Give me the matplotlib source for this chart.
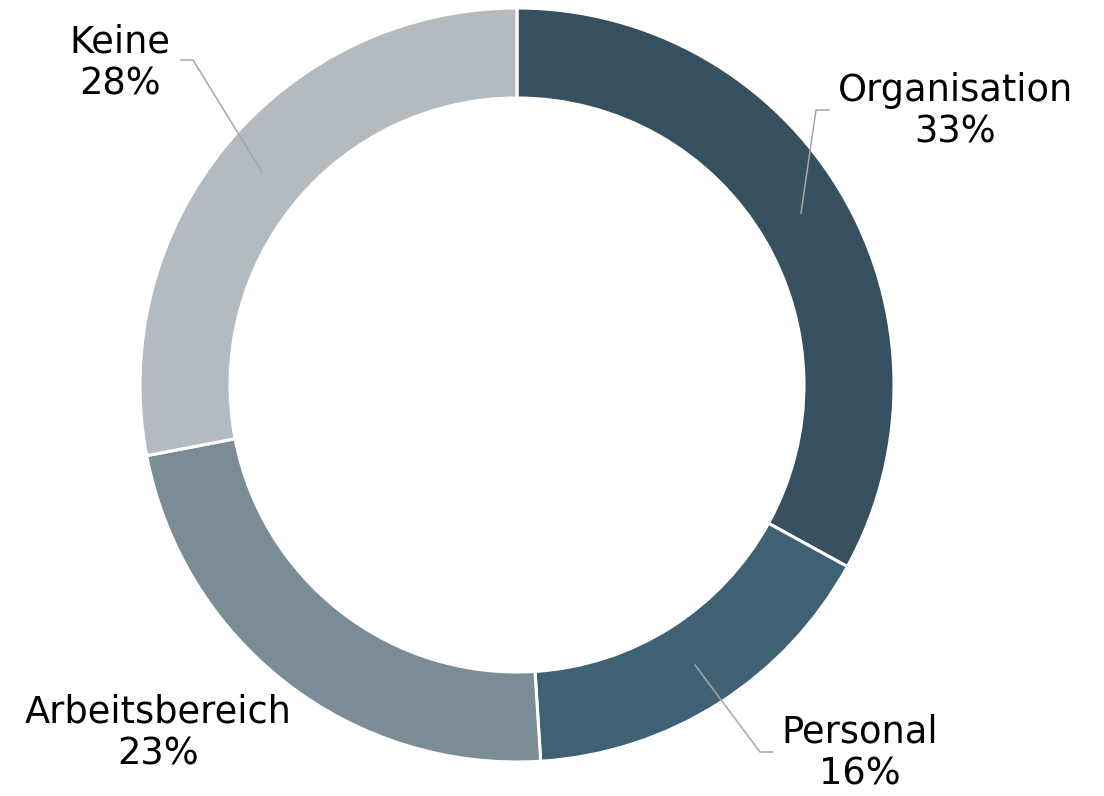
import numpy as np
import matplotlib.pyplot as plt

categories = ['Organisation', 'Personal', 'Arbeitsbereich', 'Keine']
shares = [33, 16, 23, 28]
colors = ['#36505f', '#3e6174', '#7a8c96', '#b3bbc0']

W, H = 1104, 796
CENTER = (517, H - 385)
RADIUS = 377
RING = 90

# label text centre and leader line (None = no leader), in pixel coords (y from top)
LABEL_POS = {
    'Organisation': (955, 111),
    'Personal': (860, 753),
    'Arbeitsbereich': (158, 733),
    'Keine': (120, 63),
}
LEADERS = {
    'Organisation': [(801, 213), (816, 110), (829, 110)],
    'Personal': [(695, 665), (760, 752), (773, 752)],
    'Keine': [(262, 172), (193, 60), (181, 60)],
}


def main():
    fig = plt.figure(figsize=(W / 100, H / 100), dpi=100)
    ax = fig.add_axes([0, 0, 1, 1])
    ax.set_xlim(0, W)
    ax.set_ylim(0, H)
    ax.set_aspect('equal')
    ax.axis('off')

    ax.pie(shares, colors=colors, startangle=90, counterclock=False,
           center=CENTER, radius=RADIUS,
           wedgeprops=dict(width=RING, edgecolor='white', linewidth=2.2))
    ax.set_xlim(0, W)
    ax.set_ylim(0, H)

    for name, val in zip(categories, shares):
        x, y = LABEL_POS[name]
        ax.text(x, H - y, f'{name}\n{val}%', ha='center', va='center',
                fontsize=26.5, linespacing=1.17, color='black')
        if name in LEADERS:
            pts = LEADERS[name]
            ax.plot([p[0] for p in pts], [H - p[1] for p in pts],
                    color='#a6a6a6', linewidth=1.1)

    fig.savefig('out.png', dpi=100)


if __name__ == '__main__':
    main()
